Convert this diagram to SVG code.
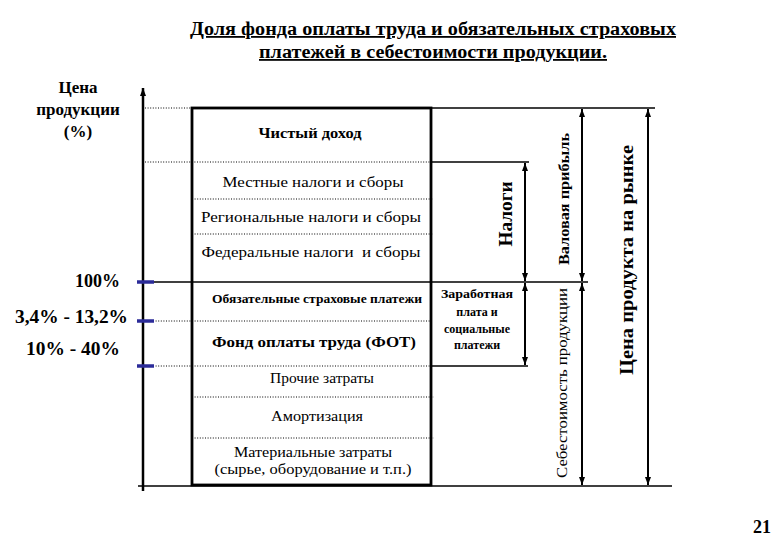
<svg xmlns="http://www.w3.org/2000/svg" width="780" height="540" viewBox="0 0 780 540" font-family="'Liberation Serif', 'Times New Roman', 'DejaVu Serif', serif">
<defs>
<style>
text{font-family:'Liberation Serif','Times New Roman','DejaVu Serif',serif;fill:#000}
.b{font-weight:bold}
.dot{stroke:#000;stroke-width:1;stroke-dasharray:1,1.6;fill:none}
.sol{stroke:#000;stroke-width:1.3;fill:none}
.arr{stroke:#000;stroke-width:2;fill:none;marker-start:url(#ah);marker-end:url(#ah)}
.tick{stroke:#2b2b99;stroke-width:3.5}
</style>
<marker id="ah" viewBox="0 0 8 8" refX="8" refY="4" markerWidth="8" markerHeight="8" markerUnits="userSpaceOnUse" orient="auto-start-reverse">
<path d="M0,1 L8,4 L0,7 Z" fill="#000"/>
</marker>
</defs>
<rect width="780" height="540" fill="#fff"/>

<g id="title">
<text class="b" x="433" y="35" text-anchor="middle" font-size="18" textLength="486" lengthAdjust="spacingAndGlyphs" text-decoration="underline">Доля фонда оплаты труда и обязательных страховых</text>
<text class="b" x="433" y="58" text-anchor="middle" font-size="18" textLength="348" lengthAdjust="spacingAndGlyphs" text-decoration="underline">платежей в себестоимости продукции.</text>
</g>

<g id="axis-label">
<text class="b" x="78" y="93" text-anchor="middle" font-size="17">Цена</text>
<text class="b" x="78" y="115" text-anchor="middle" font-size="17">продукции</text>
<text class="b" x="78" y="137" text-anchor="middle" font-size="17">(%)</text>
</g>

<g id="percent-labels">
<text class="b" x="120" y="287" text-anchor="end" font-size="18">100%</text>
<text class="b" x="128" y="323" text-anchor="end" font-size="18" textLength="113" lengthAdjust="spacingAndGlyphs">3,4% - 13,2%</text>
<text class="b" x="120" y="355" text-anchor="end" font-size="18" textLength="94" lengthAdjust="spacingAndGlyphs">10% - 40%</text>
</g>

<g id="connectors">
<line x1="143" y1="491" x2="143" y2="88" stroke="#000" stroke-width="2.5" marker-end="url(#ah)"/>
<line class="dot" x1="145" y1="108" x2="192" y2="108"/>
<line class="dot" x1="145" y1="162" x2="431" y2="162"/>
<line class="dot" x1="192" y1="199" x2="433" y2="199"/>
<line class="dot" x1="192" y1="234" x2="433" y2="234"/>
<line class="dot" x1="153" y1="321" x2="431" y2="321"/>
<line class="dot" x1="153" y1="366" x2="431" y2="366"/>
<line class="dot" x1="192" y1="397" x2="434" y2="397"/>
<line class="dot" x1="192" y1="438" x2="434" y2="438"/>
<line class="sol" x1="431" y1="108" x2="655" y2="108"/>
<line class="sol" x1="431" y1="162" x2="529" y2="162"/>
<line class="sol" x1="137" y1="282" x2="588" y2="282"/>
<line class="sol" x1="431" y1="366" x2="528" y2="366"/>
<line class="sol" x1="138" y1="486" x2="672" y2="486"/>
<line class="arr" x1="525" y1="163" x2="525" y2="281"/>
<line class="arr" x1="525" y1="283" x2="525" y2="365"/>
<line class="arr" x1="582" y1="109" x2="582" y2="281"/>
<line class="arr" x1="582" y1="283" x2="582" y2="485"/>
<line class="arr" x1="648" y1="109" x2="648" y2="485"/>
<line class="tick" x1="137" y1="282" x2="154" y2="282"/>
<line class="tick" x1="137" y1="321" x2="154" y2="321"/>
<line class="tick" x1="137" y1="366" x2="154" y2="366"/>
</g>

<g id="cost-box">
<rect x="192" y="108" width="239" height="377" fill="none" stroke="#000" stroke-width="2.8"/>
</g>

<g id="n-net-income"><text class="b" x="310" y="138" text-anchor="middle" font-size="14" textLength="103" lengthAdjust="spacingAndGlyphs">Чистый доход</text></g>
<g id="n-local"><text x="313" y="187" text-anchor="middle" font-size="14" textLength="181" lengthAdjust="spacingAndGlyphs">Местные налоги и сборы</text></g>
<g id="n-regional"><text x="311" y="222" text-anchor="middle" font-size="14" textLength="220" lengthAdjust="spacingAndGlyphs">Региональные налоги и сборы</text></g>
<g id="n-federal"><text x="311" y="257" text-anchor="middle" font-size="14" textLength="219" lengthAdjust="spacingAndGlyphs" xml:space="preserve">Федеральные налоги  и сборы</text></g>
<g id="n-insurance"><text class="b" x="317" y="303" text-anchor="middle" font-size="11.5" textLength="210" lengthAdjust="spacingAndGlyphs">Обязательные страховые платежи</text></g>
<g id="n-fot"><text class="b" x="314" y="347" text-anchor="middle" font-size="14.5" textLength="204" lengthAdjust="spacingAndGlyphs">Фонд оплаты труда (ФОТ)</text></g>
<g id="n-other"><text x="322" y="383" text-anchor="middle" font-size="14" textLength="104" lengthAdjust="spacingAndGlyphs">Прочие затраты</text></g>
<g id="n-amort"><text x="317" y="421" text-anchor="middle" font-size="14" textLength="92" lengthAdjust="spacingAndGlyphs">Амортизация</text></g>
<g id="n-material">
<text x="313" y="457" text-anchor="middle" font-size="14" textLength="158" lengthAdjust="spacingAndGlyphs">Материальные затраты</text>
<text x="313" y="474" text-anchor="middle" font-size="14" textLength="197" lengthAdjust="spacingAndGlyphs">(сырье, оборудование и т.п.)</text>
</g>

<g id="n-wages">
<text class="b" x="477" y="298" text-anchor="middle" font-size="12" textLength="72" lengthAdjust="spacingAndGlyphs">Заработная</text>
<text class="b" x="477" y="316" text-anchor="middle" font-size="12">плата и</text>
<text class="b" x="477" y="333" text-anchor="middle" font-size="12">социальные</text>
<text class="b" x="477" y="349" text-anchor="middle" font-size="12">платежи</text>
</g>

<g id="n-taxes"><text class="b" transform="translate(512,214) rotate(-90)" text-anchor="middle" font-size="18" textLength="65" lengthAdjust="spacingAndGlyphs">Налоги</text></g>
<g id="n-gross-profit"><text class="b" transform="translate(569,199) rotate(-90)" text-anchor="middle" font-size="14" textLength="132" lengthAdjust="spacingAndGlyphs">Валовая прибыль</text></g>
<g id="n-cost"><text transform="translate(567,383) rotate(-90)" text-anchor="middle" font-size="14" textLength="190" lengthAdjust="spacingAndGlyphs">Себестоимость продукции</text></g>
<g id="n-market-price"><text class="b" transform="translate(633,260) rotate(-90)" text-anchor="middle" font-size="18" textLength="230" lengthAdjust="spacingAndGlyphs">Цена продукта на рынке</text></g>

<g id="page-number"><text class="b" x="771" y="533" text-anchor="end" font-size="18">21</text></g>
</svg>
